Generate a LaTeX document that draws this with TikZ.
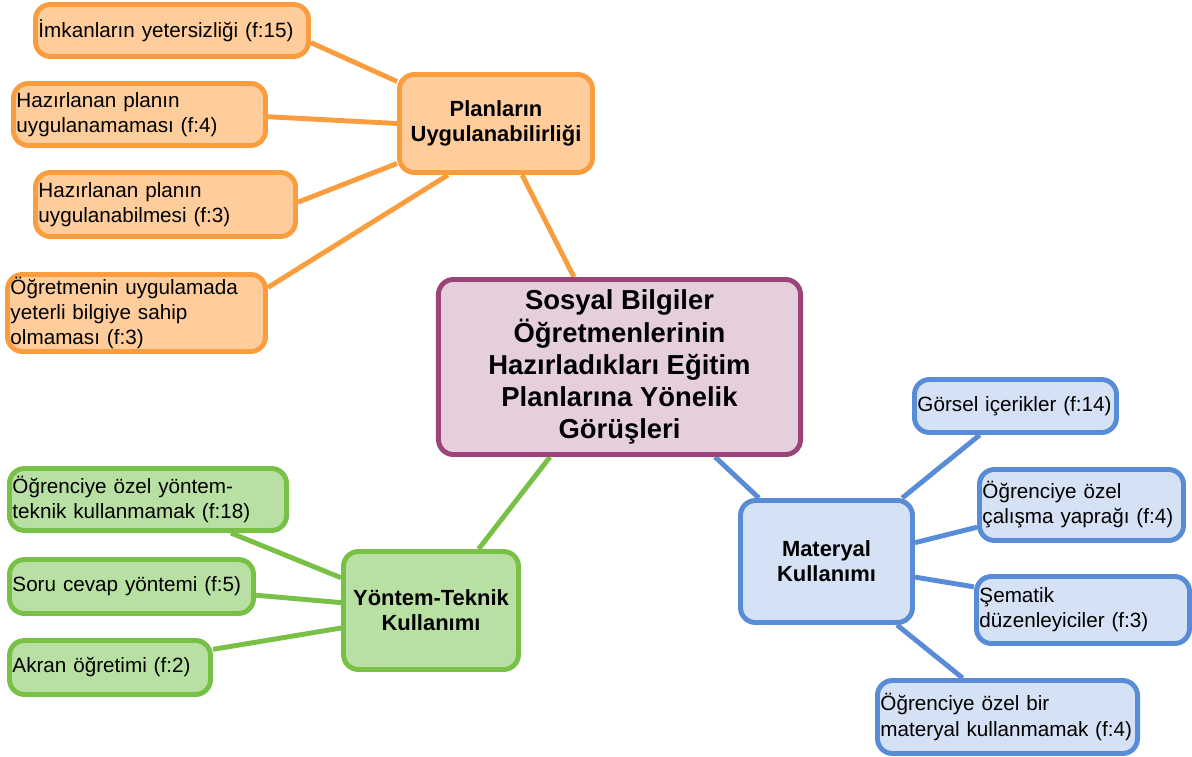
\documentclass[tikz,border=0pt]{standalone}
\usepackage{fontspec}
\setmainfont{Liberation Sans}
\usepackage{xcolor}
\usepackage{tikz}
\usetikzlibrary{backgrounds}

\definecolor{orline}{RGB}{250,157,62}
\definecolor{orfill}{RGB}{255,205,155}
\definecolor{grline}{RGB}{120,192,70}
\definecolor{grfill}{RGB}{185,224,163}
\definecolor{blline}{RGB}{88,140,214}
\definecolor{blfill}{RGB}{213,225,245}
\definecolor{puline}{RGB}{155,68,122}
\definecolor{pufill}{RGB}{230,207,221}

\begin{document}
\begin{tikzpicture}[x=0.025cm,y=-0.025cm,
    box/.style={rectangle, rounded corners=0.375cm, line width=3.5pt, inner xsep=0.075cm, inner ysep=0pt},
    leaf/.style={box, draw=#1line, fill=#1fill, align=left, font=\fontsize{14.7}{17.8}\selectfont},
    hub/.style={box, draw=#1line, fill=#1fill, align=center, font=\bfseries\fontsize{15.6}{17.8}\selectfont},
    link/.style={draw=#1line, line width=3.5pt}]
    \useasboundingbox (0,0) rectangle (1192,757);

    % main topic
    \node [hub=pu, minimum width=9.05cm, minimum height=4.375cm,
      font=\bfseries\fontsize{19.5}{22.8}\selectfont] (gorus) at (619.5,367)
      {Sosyal Bilgiler\\Öğretmenlerinin\\Hazırladıkları Eğitim\\Planlarına Yönelik\\Görüşleri};

    % orange branch
    \node [hub=or, minimum width=4.825cm, minimum height=2.45cm] (plan) at (496,123.5)
      {Planların\\Uygulanabilirliği};
    \node [leaf=or, text width=6.675cm, minimum height=1.3cm] (imkan) at (172,30.5)
      {İmkanların yetersizliği (f:15)};
    \node [leaf=or, text width=6.15cm, minimum height=1.55cm] (uygulanamama) at (139.5,114.5)
      {Hazırlanan planın\\uygulanamaması (f:4)};
    \node [leaf=or, text width=6.35cm, minimum height=1.6cm] (uygulanabilme) at (165.5,204.5)
      {Hazırlanan planın\\uygulanabilmesi (f:3)};
    \node [leaf=or, text width=6.3cm, minimum height=1.925cm] (bilgi) at (136.5,313)
      {Öğretmenin uygulamada\\yeterli bilgiye sahip\\olmaması (f:3)};

    % green branch
    \node [hub=gr, minimum width=4.375cm, minimum height=2.95cm] (yontem) at (431,610.5)
      {Yöntem-Teknik\\Kullanımı};
    \node [leaf=gr, text width=6.775cm, minimum height=1.55cm] (ozelyontem) at (148,499.5)
      {Öğrenciye özel yöntem-\\teknik kullanmamak (f:18)};
    \node [leaf=gr, text width=5.95cm, minimum height=1.35cm] (sorucevap) at (131.5,586.5)
      {Soru cevap yöntemi (f:5)};
    \node [leaf=gr, text width=4.875cm, minimum height=1.35cm] (akran) at (110,667.5)
      {Akran öğretimi (f:2)};

    % blue branch
    \node [hub=bl, minimum width=4.3cm, minimum height=3.05cm] (materyal) at (826.5,561.5)
      {Materyal\\Kullanımı};
    \node [leaf=bl, text width=4.9cm, minimum height=1.325cm] (gorsel) at (1015.5,406)
      {Görsel içerikler (f:14)};
    \node [leaf=bl, text width=4.95cm, minimum height=1.775cm] (calisma) at (1081.5,505)
      {Öğrenciye özel\\çalışma yaprağı (f:4)};
    \node [leaf=bl, text width=5.175cm, minimum height=1.675cm] (sematik) at (1083,610)
      {Şematik\\düzenleyiciler (f:3)};
    \node [leaf=bl, text width=6.35cm, minimum height=1.825cm] (ozelmateryal) at (1007.5,717)
      {Öğrenciye özel bir\\materyal kullanmamak (f:4)};

    % connectors
    \begin{scope}[on background layer]
      \draw [link=or] (plan) -- (gorus);
      \draw [link=gr] (yontem) -- (gorus);
      \draw [link=bl] (materyal) -- (gorus);
      \draw [link=or] (imkan.-5) -- (plan.157);
      \draw [link=or] (uygulanamama.-1) -- (plan.180);
      \draw [link=or] (uygulanabilme.1) -- (plan.202);
      \draw [link=or] (bilgi.11) -- (plan.227);
      \draw [link=gr] (ozelyontem.-22) -- (yontem.160);
      \draw [link=gr] (sorucevap.-4) -- (yontem.175);
      \draw [link=gr] (akran.10) -- (yontem.191);
      \draw [link=bl] (materyal.40) -- (gorsel.219);
      \draw [link=bl] (materyal.12) -- (calisma.192);
      \draw [link=bl] (materyal.-10) -- (sematik.168);
      \draw [link=bl] (materyal.-42) -- (ozelmateryal.139);
    \end{scope}
\end{tikzpicture}
\end{document}
